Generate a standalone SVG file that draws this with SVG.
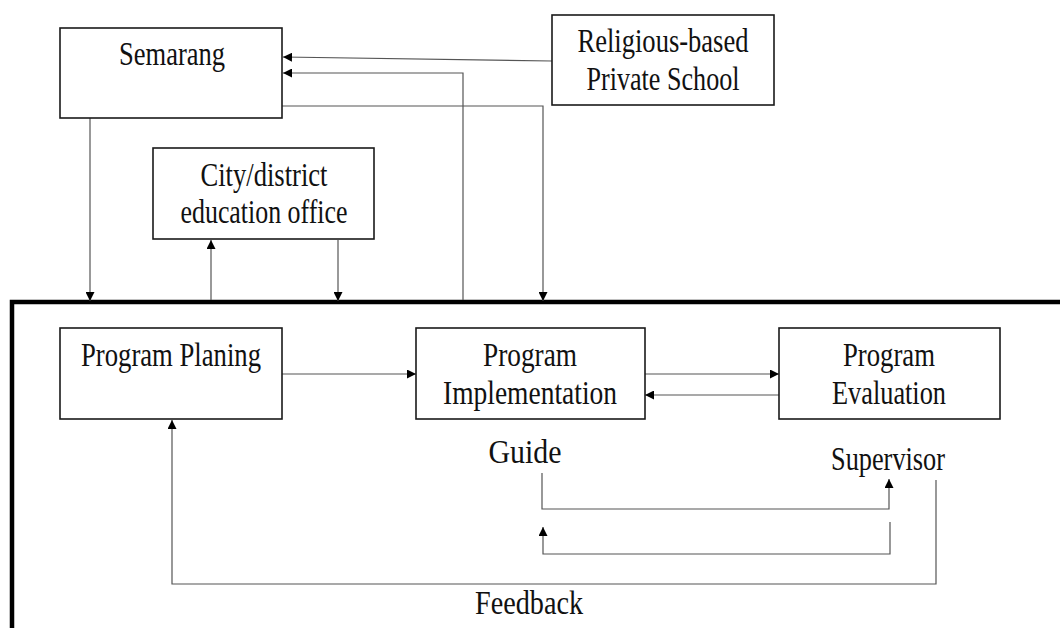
<svg xmlns="http://www.w3.org/2000/svg" width="1060" height="628" viewBox="0 0 1060 628">
<defs>
<marker id="ah" markerUnits="userSpaceOnUse" markerWidth="10" markerHeight="9" refX="9" refY="4.5" orient="auto" viewBox="0 0 10 9">
<path d="M0,0 L9,4.5 L0,9 Z" fill="#000"/>
</marker>
<style>
.box{fill:#fff;stroke:#1a1a1a;stroke-width:1.6}
.t{font-family:"Liberation Serif","Times New Roman",serif;font-size:33px;fill:#111;text-anchor:middle}
.c{fill:none;stroke:#555;stroke-width:1.2}
.ca{fill:none;stroke:#555;stroke-width:1.2;marker-end:url(#ah)}
.frame{fill:none;stroke:#000;stroke-width:4.5}
</style>
</defs>
<rect width="1060" height="628" fill="#fff"/>
<g id="container"><path class="frame" d="M12,628 V302 H1060"/></g>
<g id="connectors">
<path class="ca" d="M90,118 V301"/>
<path class="ca" d="M211,300 V240"/>
<path class="ca" d="M338,240 V301"/>
<path class="ca" d="M463,300 V73 H283"/>
<path class="ca" d="M552,61 L283,57"/>
<path class="ca" d="M282,106 H543 V301"/>
<path class="ca" d="M282,374 H416"/>
<path class="ca" d="M645,374 H779"/>
<path class="ca" d="M779,395 H645"/>
<path class="ca" d="M542,473 V509 H889 V479"/>
<path class="ca" d="M890,522 V554 H543 V527"/>
<path class="ca" d="M936,480 V584 H172 V420"/>
</g>
<g id="semarang"><rect class="box" x="60" y="28" width="222" height="90"/><text class="t" x="172" y="65" textLength="106" lengthAdjust="spacingAndGlyphs">Semarang</text></g>
<g id="religious"><rect class="box" x="552" y="15" width="222" height="90"/><text class="t" x="663" y="52" textLength="171" lengthAdjust="spacingAndGlyphs">Religious-based</text><text class="t" x="663" y="90" textLength="153" lengthAdjust="spacingAndGlyphs">Private School</text></g>
<g id="city"><rect class="box" x="153" y="148" width="221" height="91"/><text class="t" x="264" y="186" textLength="127" lengthAdjust="spacingAndGlyphs">City/district</text><text class="t" x="264" y="223" textLength="167" lengthAdjust="spacingAndGlyphs">education office</text></g>
<g id="planing"><rect class="box" x="60" y="328" width="222" height="91"/><text class="t" x="171" y="366" textLength="180" lengthAdjust="spacingAndGlyphs">Program Planing</text></g>
<g id="implementation"><rect class="box" x="416" y="328" width="229" height="91"/><text class="t" x="530" y="366" textLength="94" lengthAdjust="spacingAndGlyphs">Program</text><text class="t" x="530" y="404" textLength="174" lengthAdjust="spacingAndGlyphs">Implementation</text></g>
<g id="evaluation"><rect class="box" x="779" y="328" width="221" height="91"/><text class="t" x="889" y="366" textLength="92" lengthAdjust="spacingAndGlyphs">Program</text><text class="t" x="889" y="404" textLength="114" lengthAdjust="spacingAndGlyphs">Evaluation</text></g>
<g id="guide"><text class="t" x="525" y="463" textLength="73" lengthAdjust="spacingAndGlyphs">Guide</text></g>
<g id="supervisor"><text class="t" x="888" y="470" textLength="114" lengthAdjust="spacingAndGlyphs">Supervisor</text></g>
<g id="feedback"><text class="t" x="529" y="614" textLength="108" lengthAdjust="spacingAndGlyphs">Feedback</text></g>
</svg>
